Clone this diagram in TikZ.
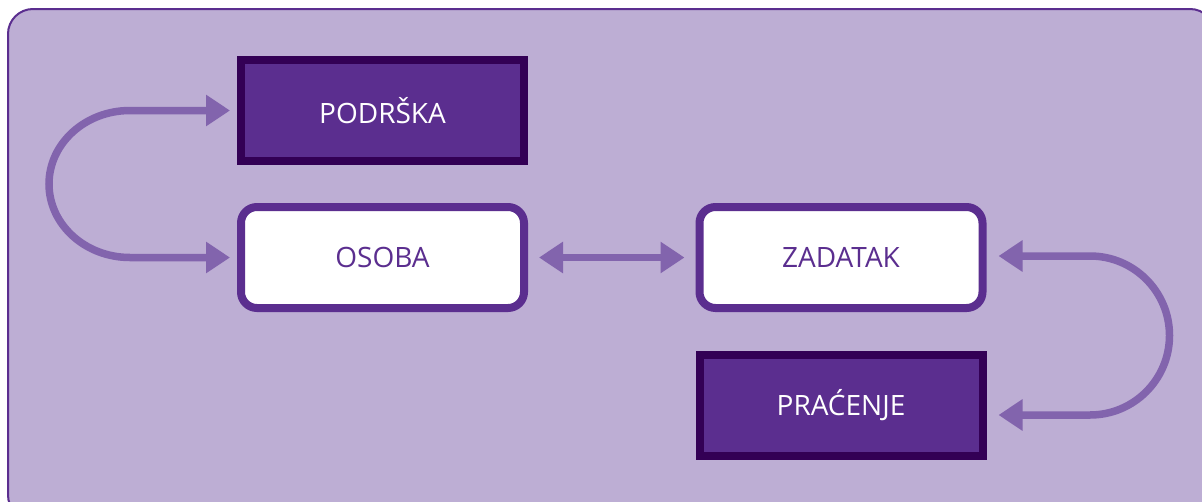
\documentclass[tikz,border=0pt]{standalone}
\usepackage{fontspec}
\setmainfont{Open Sans}
\usetikzlibrary{arrows.meta,calc}

\definecolor{panelfill}{HTML}{BDAED4}
\definecolor{boxfill}{HTML}{5B2E8F}
\definecolor{boxedge}{HTML}{330055}
\definecolor{linkcol}{HTML}{8264AD}

\begin{document}
\begin{tikzpicture}[scale=1, font=\fontsize{28}{32}\selectfont, x=1pt, y=-1pt,
  darkbox/.style={draw=boxedge, fill=boxfill, line width=8pt, text=white,
    minimum width=283pt, minimum height=101pt},
  lightbox/.style={draw=boxfill, fill=white, line width=8pt, text=boxfill,
    rounded corners=16pt, minimum width=283pt, minimum height=101pt},
  link/.style={draw=linkcol, line width=7.5pt,
    {Triangle[length=24pt,width=30pt]}-{Triangle[length=24pt,width=30pt]}}]
\useasboundingbox (0,0) rectangle (1202,501);

% panel
\begin{scope}
\clip (0,0) rectangle (1202,501);
\draw[draw=boxfill, fill=panelfill, line width=2pt, rounded corners=25pt]
  (8,9) rectangle (1215,520);
\end{scope}

\begin{scope}
\coordinate (s) at (382.5,110.5);
\coordinate (o) at (382.5,257.5);
\coordinate (z) at (841,257.5);
\coordinate (p) at (841,405.5);

\node[darkbox] (podrska) at (s) {PODRŠKA};
\node[lightbox] (osoba) at (o) {OSOBA};
\node[lightbox] (zadatak) at (z) {ZADATAK};
\node[darkbox] (pracenje) at (p) {PRAĆENJE};

\draw[link] ($(podrska.west)+(-7,0)$) -- (130,110.5)
  arc[start angle=270, end angle=90, x radius=81, y radius=73.5]
  -- ($(osoba.west)+(-7,0)$);
\draw[link] ($(osoba.east)+(11,0)$) -- ($(zadatak.west)+(-11,0)$);
\draw[link] ($(zadatak.east)+(12,-1.5)$) -- (1090,256)
  arc[start angle=270, end angle=450, radius=79.5]
  -- ($(pracenje.east)+(12,9.5)$);
\end{scope}

\end{tikzpicture}
\end{document}
